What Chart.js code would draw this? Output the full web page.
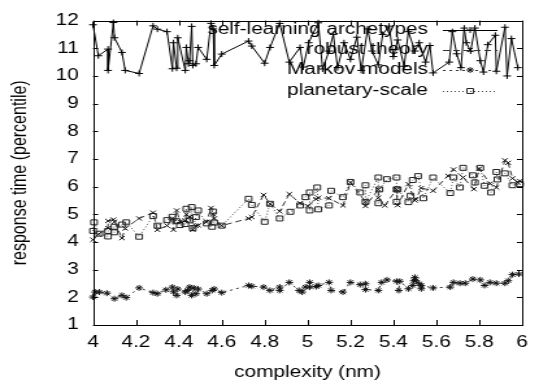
<!DOCTYPE html>
<html>
<head>
<meta charset="utf-8">
<script src="https://cdn.jsdelivr.net/npm/chart.js@4.4.0/dist/chart.umd.min.js"></script>
<style>
  html, body { margin: 0; padding: 0; background: #fff; }
</style>
</head>
<body>
<!-- the reference is a gnuplot picture stretched sideways, so draw narrow and stretch -->
<canvas id="chart" width="415" height="390" style="width:539px;height:390px;"></canvas>
<script>
const seriesNames = ['self-learning archetypes', 'robust theory', 'Markov models', 'planetary-scale'];

const xTicks = [4, 4.2, 4.4, 4.6, 4.8, 5, 5.2, 5.4, 5.6, 5.8, 6];
const xTickLabels = ['4', '4.2', '4.4', '4.6', '4.8', '5', '5.2', '5.4', '5.6', '5.8', '6'];
const yTicks = [1, 2, 3, 4, 5, 6, 7, 8, 9, 10, 11, 12];
const yTickLabels = ['1', '2', '3', '4', '5', '6', '7', '8', '9', '10', '11', '12'];

// self-learning archetypes
const archetypesX = [4.0, 4.025, 4.07, 4.07, 4.095, 4.10, 4.135, 4.15, 4.215, 4.28, 4.30, 4.345, 4.37, 4.375,
  4.39, 4.395, 4.43, 4.435, 4.445, 4.45, 4.46, 4.465, 4.48, 4.49, 4.53, 4.55, 4.56, 4.565, 4.60, 4.725,
  4.74, 4.80, 4.825, 4.87, 4.915, 4.965, 4.98, 5.005, 5.05, 5.07, 5.10, 5.12, 5.14, 5.17, 5.20, 5.23,
  5.25, 5.28, 5.30, 5.33, 5.35, 5.38, 5.40, 5.42, 5.45, 5.47, 5.50, 5.52, 5.55, 5.57, 5.585, 5.66,
  5.675, 5.695, 5.715, 5.73, 5.74, 5.76, 5.78, 5.805, 5.82, 5.84, 5.875, 5.88, 5.92, 5.93, 5.95, 5.98];
const archetypesY = [11.85, 10.73, 10.97, 10.2, 11.93, 11.38, 10.85, 10.2, 10.09, 11.81, 11.69, 11.6, 10.26, 11.2,
  10.28, 11.38, 10.2, 11.03, 10.44, 10.55, 11.79, 10.38, 10.44, 11.03, 10.6, 11.9, 11.7, 10.38, 10.79, 11.26,
  11.08, 10.46, 11.03, 11.9, 10.5, 11.03, 10.32, 11.2, 11.92, 10.25, 10.9, 11.5, 10.3, 11.2, 10.6, 11.4,
  10.2, 11.7, 10.9, 10.4, 11.5, 11.8, 10.7, 11.3, 10.35, 11.6, 10.9, 11.2, 10.5, 11.1, 10.11, 10.5,
  11.6, 10.8, 10.3, 11.73, 11.2, 10.9, 11.73, 10.55, 10.14, 11.13, 11.47, 10.17, 11.76, 10.0, 11.35, 10.3];

// robust theory
const robustX = [4.0, 4.025, 4.07, 4.07, 4.095, 4.10, 4.135, 4.15, 4.215, 4.28, 4.30, 4.345, 4.37, 4.375,
  4.39, 4.405, 4.43, 4.435, 4.45, 4.465, 4.48, 4.49, 4.53, 4.55, 4.56, 4.565, 4.60, 4.725, 4.74, 4.795,
  4.825, 4.87, 4.915, 4.965, 5.00, 5.04, 5.05, 5.10, 5.165, 5.20, 5.27, 5.27, 5.33, 5.33, 5.36, 5.415,
  5.42, 5.47, 5.50, 5.505, 5.53, 5.585, 5.655, 5.68, 5.725, 5.775, 5.80, 5.85, 5.88, 5.92, 5.935, 5.955,
  5.98, 5.99];
const robustY = [4.08, 4.28, 4.5, 4.76, 4.81, 4.73, 4.14, 4.49, 4.85, 5.06, 4.44, 4.59, 4.85, 4.44,
  5.14, 4.73, 4.78, 5.0, 4.9, 4.44, 4.59, 4.6, 4.73, 5.23, 5.0, 4.85, 4.59, 4.85, 4.9, 5.7,
  5.38, 5.11, 5.73, 5.4, 5.3, 5.55, 5.6, 5.58, 5.32, 6.15, 5.45, 5.3, 5.9, 5.6, 5.32, 5.9,
  5.33, 6.09, 5.5, 5.55, 5.95, 5.85, 6.39, 6.62, 6.33, 5.91, 6.65, 6.11, 5.97, 6.95, 6.86, 6.3,
  6.15, 6.2];

// Markov models
const markovX = [4.0, 4.01, 4.03, 4.065, 4.10, 4.135, 4.155, 4.215, 4.28, 4.30, 4.34, 4.37, 4.375, 4.39,
  4.395, 4.43, 4.44, 4.45, 4.46, 4.47, 4.48, 4.49, 4.53, 4.555, 4.565, 4.60, 4.725, 4.74, 4.795, 4.825,
  4.87, 4.87, 4.915, 4.96, 4.975, 4.99, 5.01, 5.01, 5.04, 5.05, 5.10, 5.11, 5.165, 5.20, 5.245, 5.27,
  5.27, 5.33, 5.345, 5.37, 5.415, 5.425, 5.43, 5.47, 5.49, 5.495, 5.50, 5.505, 5.52, 5.53, 5.53, 5.585,
  5.665, 5.68, 5.71, 5.735, 5.77, 5.805, 5.825, 5.85, 5.88, 5.92, 5.935, 5.955, 5.985];
const markovY = [2.01, 2.19, 2.19, 2.15, 1.95, 2.07, 1.99, 2.34, 2.17, 2.13, 2.27, 2.37, 2.2, 2.07,
  2.3, 2.19, 2.25, 2.37, 2.07, 2.34, 2.13, 2.3, 2.13, 2.25, 2.3, 2.17, 2.43, 2.4, 2.37, 2.25,
  2.37, 2.25, 2.54, 2.25, 2.19, 2.37, 2.54, 2.37, 2.39, 2.43, 2.54, 2.25, 2.19, 2.54, 2.46, 2.49,
  2.28, 2.25, 2.54, 2.63, 2.58, 2.25, 2.58, 2.31, 2.43, 2.6, 2.72, 2.6, 2.49, 2.31, 2.43, 2.34,
  2.37, 2.54, 2.51, 2.51, 2.66, 2.63, 2.43, 2.54, 2.51, 2.51, 2.6, 2.82, 2.84];

// planetary-scale
const planetaryX = [4.0, 4.005, 4.03, 4.07, 4.07, 4.10, 4.10, 4.135, 4.155, 4.215, 4.28, 4.30, 4.345, 4.37,
  4.39, 4.405, 4.43, 4.435, 4.45, 4.46, 4.465, 4.48, 4.49, 4.53, 4.555, 4.56, 4.565, 4.60, 4.725, 4.74,
  4.80, 4.825, 4.87, 4.92, 4.965, 4.99, 5.01, 5.01, 5.045, 5.05, 5.10, 5.11, 5.165, 5.20, 5.245, 5.27,
  5.27, 5.33, 5.33, 5.335, 5.37, 5.415, 5.415, 5.415, 5.42, 5.47, 5.48, 5.49, 5.515, 5.54, 5.585, 5.665,
  5.68, 5.71, 5.725, 5.77, 5.78, 5.805, 5.825, 5.855, 5.88, 5.885, 5.92, 5.955, 5.99];
const planetaryY = [4.40, 4.71, 4.3, 4.2, 4.4, 4.55, 4.35, 4.63, 4.71, 4.19, 4.94, 4.59, 4.79, 4.91,
  4.75, 4.61, 4.65, 5.2, 4.78, 5.26, 4.5, 4.9, 5.14, 4.67, 4.55, 5.1, 4.7, 4.59, 5.56, 5.34,
  4.73, 5.38, 4.85, 5.09, 5.32, 5.62, 5.79, 5.14, 5.97, 5.18, 5.32, 5.85, 5.62, 6.17, 5.79, 6.05,
  5.45, 6.33, 5.4, 5.9, 6.27, 6.33, 5.9, 5.45, 5.9, 5.44, 5.67, 6.24, 6.38, 5.58, 6.33, 5.77,
  6.33, 5.97, 6.68, 6.41, 6.15, 6.68, 6.03, 5.79, 6.53, 6.26, 6.48, 6.05, 6.09];

function toPoints(xs, ys) {
  return xs.map((x, i) => ({x: x, y: ys[i]}));
}

// gnuplot style frame: box with inward ticks on all four sides
const framePlugin = {
  id: 'frame',
  afterDatasetsDraw(chart) {
    const {ctx, chartArea: a, scales} = chart;
    ctx.save();
    ctx.strokeStyle = '#000';
    ctx.lineWidth = 1;
    ctx.beginPath();
    xTicks.forEach(v => {
      const px = Math.round(scales.x.getPixelForValue(v)) + 0.5;
      ctx.moveTo(px, a.bottom); ctx.lineTo(px, a.bottom - 5);
      ctx.moveTo(px, a.top); ctx.lineTo(px, a.top + 5);
    });
    yTicks.forEach(v => {
      const py = Math.round(scales.y.getPixelForValue(v)) + 0.5;
      ctx.moveTo(a.left, py); ctx.lineTo(a.left + 4, py);
      ctx.moveTo(a.right, py); ctx.lineTo(a.right - 4, py);
    });
    ctx.stroke();
    ctx.strokeRect(Math.round(a.left) + 0.5, Math.round(a.top) + 0.5,
      Math.round(a.right - a.left), Math.round(a.bottom - a.top));
    ctx.restore();
  }
};

// key in the top right corner, text right aligned, sample to the right
const keyPlugin = {
  id: 'key',
  afterDatasetsDraw(chart) {
    const ctx = chart.ctx;
    const textRight = 329.5, lineStart = 341, lineEnd = 383, markX = 362;
    const rows = [30, 50, 70, 91];
    ctx.save();
    ctx.font = '16px "Liberation Sans", Arial, sans-serif';
    ctx.textAlign = 'right';
    ctx.textBaseline = 'middle';
    chart.data.datasets.forEach((ds, i) => {
      const y = rows[i];
      ctx.fillStyle = '#000';
      ctx.fillText(ds.label, textRight, y);
      ctx.strokeStyle = ds.borderColor;
      ctx.lineWidth = ds.borderWidth;
      ctx.setLineDash(ds.borderDash || []);
      ctx.beginPath();
      ctx.moveTo(lineStart, y + 0.5);
      ctx.lineTo(lineEnd, y + 0.5);
      ctx.stroke();
      ctx.setLineDash([]);
      ctx.fillStyle = 'rgba(0,0,0,0)';
      ctx.strokeStyle = ds.pointBorderColor;
      Chart.helpers.drawPoint(ctx, {
        pointStyle: ds.pointStyle, radius: ds.pointRadius, rotation: 0, borderWidth: 1
      }, markX, y);
    });
    ctx.restore();
  }
};

Chart.defaults.font.family = '"Liberation Sans", Arial, sans-serif';
Chart.defaults.font.size = 16;
Chart.defaults.color = '#000';

new Chart(document.getElementById('chart'), {
  type: 'line',
  data: {
    datasets: [{
      label: seriesNames[0],
      data: toPoints(archetypesX, archetypesY),
      borderColor: '#000', borderWidth: 1,
      pointStyle: 'cross', pointRadius: 3, pointBorderColor: '#000', pointBorderWidth: 1
    }, {
      label: seriesNames[1],
      data: toPoints(robustX, robustY),
      borderColor: '#333', borderWidth: 1, borderDash: [5, 3],
      pointStyle: 'crossRot', pointRadius: 3, pointBorderColor: '#111', pointBorderWidth: 1
    }, {
      label: seriesNames[2],
      data: toPoints(markovX, markovY),
      borderColor: '#333', borderWidth: 1, borderDash: [2, 3],
      pointStyle: 'star', pointRadius: 3, pointBorderColor: '#111', pointBorderWidth: 1
    }, {
      label: seriesNames[3],
      data: toPoints(planetaryX, planetaryY),
      borderColor: '#444', borderWidth: 1, borderDash: [1, 2],
      pointStyle: 'rect', pointRadius: 3.5, pointBorderColor: '#222', pointBorderWidth: 1,
      pointBackgroundColor: 'rgba(0,0,0,0)'
    }]
  },
  options: {
    responsive: false,
    animation: false,
    layout: { padding: { top: 15, right: 13, left: 0, bottom: 0 } },
    elements: { line: { tension: 0, fill: false } },
    datasets: { line: { clip: false } },
    plugins: { legend: { display: false }, tooltip: { enabled: false } },
    scales: {
      x: {
        type: 'linear', min: 4, max: 6,
        afterBuildTicks: s => { s.ticks = xTicks.map(v => ({value: v})); },
        afterFit: s => { s.height = 65; },
        grid: { display: false, drawTicks: false },
        border: { display: false },
        ticks: { autoSkip: false, maxRotation: 0, padding: 8,
                 callback: (v, i) => xTickLabels[i] },
        title: { display: true, text: 'complexity (nm)', padding: { top: 0, bottom: 8 } }
      },
      y: {
        type: 'linear', min: 1, max: 12,
        afterBuildTicks: s => { s.ticks = yTicks.map(v => ({value: v})); },
        afterFit: s => { s.width = 71.6; },
        grid: { display: false, drawTicks: false },
        border: { display: false },
        ticks: { autoSkip: false, padding: 11,
                 callback: (v, i) => yTickLabels[i] },
        title: { display: true, text: 'response time (percentile)', padding: { top: 6, bottom: 0 } }
      }
    }
  },
  plugins: [framePlugin, keyPlugin]
});
</script>
</body>
</html>
